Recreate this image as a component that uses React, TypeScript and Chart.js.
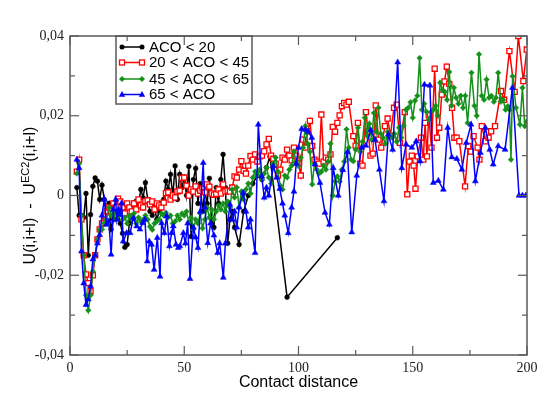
import React, { useEffect, useRef } from 'react';
import { Chart, registerables } from 'chart.js';

Chart.register(...registerables);

const seriesLabels = ['ACO < 20', '20 < ACO < 45', '45 < ACO < 65', '65 < ACO'];
const seriesColors = ['#000000', '#ff0000', '#15901a', '#0000ff'];
const xTicks = [0, 50, 100, 150, 200];
const yTicks = [-0.04, -0.02, 0, 0.02, 0.04];
const xTitle = 'Contact distance';

const blackPts: [number, number][] = [[3,0.002],[4,-0.005],[5,-0.005],[6,-0.0055],[7,0.0005],[8,-0.015],[9,-0.0048],[10,0.0023],[11,0.0044],[12,0.0036],[13,-0.001],[14,0.0026],[15,-0.001],[16,-0.004],[17,-0.002],[18,-0.0085],[19,-0.006],[20,-0.003],[21,-0.0045],[22,-0.007],[23,-0.0095],[24,-0.013],[25,-0.0123],[26,-0.0069],[27,-0.003],[28,-0.0018],[29,-0.0014],[30,-0.002],[31,0.0015],[32,-0.0006],[33,0.0032],[34,-0.001],[35,-0.004],[36,-0.005],[37,-0.003],[38,-0.006],[39,-0.004],[40,-0.002],[41,-0.001],[42,0.0036],[43,0.0015],[44,0.0053],[45,-0.0002],[46,0.0074],[47,-0.001],[48,0.0053],[49,0.002],[50,0.0045],[51,0.0],[52,0.0073],[53,-0.0103],[54,0.004],[55,0.0068],[56,-0.002],[57,0.003],[58,-0.004],[59,0.001],[60,-0.002],[61,0.0043],[62,-0.006],[63,-0.008],[64,0.002],[65,-0.002],[66,0.004],[67,0.0103],[68,0.002],[69,-0.012],[70,-0.006],[71,-0.004],[72,-0.008],[74,-0.0123],[76,-0.004],[78,0.0],[80,0.003],[82,0.005],[84,0.004],[86,0.007],[87.5,0.0098],[95,-0.0255],[117,-0.0106]];

const redPts: [number, number][] = [[3,0.006],[4,0.009],[5,-0.006],[6,-0.015],[7,-0.0198],[8,-0.022],[9,-0.024],[10,-0.02],[11,-0.015],[12,-0.011],[13,-0.0085],[14,-0.007],[15,-0.005],[16,-0.004],[17,-0.003],[18,-0.004],[19,-0.002],[20,-0.003],[21,-0.0008],[22,-0.0015],[23,-0.003],[24,-0.0045],[25,-0.002],[26,-0.003],[27,-0.004],[28,-0.002],[29,-0.0035],[30,-0.001],[31,-0.0025],[32,-0.003],[33,-0.0014],[34,-0.0012],[35,-0.0022],[36,-0.0015],[37,-0.0035],[38,-0.002],[39,-0.0025],[40,-0.003],[41,-0.0018],[42,0.0006],[43,0.0008],[44,-0.001],[45,0],[46,-0.0005],[47,0.001],[48,0.0012],[49,0.0044],[50,0.0045],[51,0.0025],[52,0],[53,0.0015],[54,0.001],[55,0.0023],[56,0.0005],[57,0.0012],[58,0.0018],[59,0.0008],[60,0.0028],[61,0.0022],[62,0.0005],[63,0.0002],[64,0.0004],[65,0.0015],[66,0.0005],[67,0.0028],[68,0.001],[69,0.0012],[70,0.001],[71,0.002],[72,0.0048],[73,0.0045],[74,0.0065],[75,0.0086],[76,0.0062],[77,0.0055],[78,0.0075],[79,0.0099],[80,0.009],[81,0.0103],[82,0.0085],[83,0.0098],[84,0.01],[85,0.0111],[86,0.0128],[87,0.0142],[88,0.01],[89,0.0092],[90,0.008],[91,0.005],[92,0.0065],[93,0.0095],[94,0.009],[95,0.0115],[96,0.01],[97,0.0088],[98,0.012],[99,0.01],[100,0.0082],[101,0.005],[102,0.014],[103,0.012],[104,0.0161],[105,0.0187],[106,0.0124],[107,0.009],[108,0.0085],[109,0.008],[110,0.0203],[111,0.0085],[112,0.0095],[113,0.009],[114,0.0103],[115,0.0172],[116,0.016],[117,0.0182],[118,0.0201],[119,0.0224],[120,0.0232],[121,0.0228],[122,0.0235],[124,0.0149],[125,0.0125],[126,0.0182],[127,0.008],[128,0.0075],[129.5,0.0209],[130.5,0.016],[131.5,0.01],[132.5,0.0105],[133.8,0.0226],[135,0.014],[136.2,0.012],[137.8,0.0174],[139,0.0193],[140.2,0.015],[141.8,0.022],[143,0.0228],[144.4,0.0132],[146.5,0.0209],[147.6,0.0003],[148.6,0.0085],[149.6,0.01],[150.4,0.0075],[151.2,0.0017],[152.2,0.0098],[153.6,0.0145],[154.6,0.009],[155.4,0.0182],[156.2,0.0098],[157,0.0201],[158.2,0.012],[159.6,0.0318],[160.6,0.0145],[161.6,0.017],[162.7,0.0253],[163.9,0.0286],[164.9,0.0323],[166,0.028],[167.2,0.022],[168.2,0.0145],[169.2,0.0145],[170.4,0.0136],[172.9,0.0023],[174.3,0.0124],[175.4,0.011],[176.6,0.0149],[178.4,0.012],[179.2,0.009],[180.2,0.0174],[181.9,0.0136],[183.2,0.0145],[184.3,0.0161],[186,0.0174],[188.6,0.0262],[190,0.024],[192.3,0.0362],[194.6,0.026],[196.2,0.04],[198.4,0.0287],[199.9,0.0366]];

const greenPts: [number, number][] = [[3,0.0055],[4,0.008],[5,-0.005],[6,-0.015],[7,-0.025],[8,-0.0288],[9,-0.025],[10,-0.019],[11,-0.015],[12,-0.011],[13,-0.0085],[14,-0.0085],[15,-0.007],[16,-0.006],[17,-0.003],[18,-0.005],[19,-0.004],[20,-0.006],[21,-0.005],[22,-0.004],[23,-0.006],[24,-0.0055],[25,-0.007],[26,-0.005],[27,-0.006],[28,-0.0045],[29,-0.007],[30,-0.0055],[31,-0.0065],[32,-0.006],[33,-0.005],[34,-0.006],[35,-0.0078],[36,-0.0086],[37,-0.007],[38,-0.0065],[39,-0.006],[40,-0.0045],[41,-0.005],[42,-0.0043],[43,-0.0055],[44,-0.005],[45,-0.007],[46,-0.0065],[47,-0.005],[48,-0.006],[49,-0.0045],[50,-0.005],[51,-0.004],[52,-0.0068],[53,-0.0055],[54,-0.0085],[55,-0.006],[56,-0.007],[57,-0.0045],[58,-0.0082],[59,-0.006],[60,-0.003],[61,-0.0055],[62,-0.0035],[63,-0.006],[64,-0.004],[65,-0.0025],[66,-0.0035],[67,-0.002],[68,-0.004],[69,-0.0015],[70,-0.003],[71,0.0015],[72,-0.0005],[73,0.002],[74,-0.003],[75,0.001],[76,-0.001],[77,0.0015],[78,0.003],[79,0.0005],[80,0.0045],[81,0.006],[82,0.005],[83,0.0065],[84,0.004],[85,0.0055],[86,0.007],[87,0.0045],[88,0.003],[89,0.008],[90,0.0095],[91,0.006],[92,0.0025],[93,0.0015],[94,0.005],[95,0.0045],[96,0.0065],[97,0.0075],[98,0.011],[99,0.0085],[100,0.0074],[101,0.0095],[102,0.012],[103,0.0174],[104,0.013],[105,0.011],[106,0.0028],[107,0.008],[108,0.0065],[109,0.0055],[110,0.006],[111,0.0075],[112,0.0065],[113,0.0085],[114,0.013],[115,0],[116,0.0035],[117,0.0048],[118,0.0035],[119,0.0065],[120,0.0085],[121,0.0166],[122,0.012],[123,0.009],[124,0.0086],[125,0.0115],[126,0.017],[127,0.011],[128,0.0135],[129,0.0195],[130,0.015],[131,0.018],[132,0.014],[133,0.0207],[134,0.016],[135,0.022],[136,0.0155],[137,0.0145],[138,0.013],[139,0.016],[140,0.015],[141,0.0145],[142,0.0155],[143,0.0135],[144,0.017],[145,0.0145],[146,0.0175],[147,0.0215],[148,0.022],[149,0.0234],[150,0.0195],[151,0.0238],[152,0.025],[153,0.0345],[154,0.0215],[155,0.023],[156,0.021],[157,0.019],[158,0.021],[159,0.0215],[160,0.0225],[161,0.02],[162,0.0283],[163,0.0265],[164,0.026],[165,0.024],[166,0.031],[167,0.0225],[168,0.027],[169,0.0245],[170,0.023],[171,0.025],[172,0.022],[173,0.025],[174,0.0182],[175.7,0.0308],[177,0.0225],[178,0.02],[179,0.0354],[180.2,0.025],[181.2,0.024],[182.3,0.0291],[183.4,0.0245],[184.4,0.025],[185.5,0.0235],[186.4,0.0245],[187.4,0.0308],[188.6,0.0235],[189.6,0.024],[190.6,0.0215],[191.6,0.0224],[192.3,0.0215],[193,0.009],[193.7,0.0299],[195.2,0.022],[196.9,0.0178],[198,0.027],[199,0.0174],[199.9,0.0186]];

const bluePts: [number, number][] = [[3,0.009],[4,0.0069],[5,-0.014],[6,-0.022],[7,-0.0274],[8,-0.026],[9,-0.0227],[10,-0.016],[11,-0.015],[12,-0.012],[13,-0.0099],[14,-0.005],[15,-0.001],[16,-0.0073],[17,-0.0065],[18,-0.0148],[19,-0.0035],[20,-0.001],[20.5,-0.006],[21.2,-0.0035],[22,-0.0048],[22.6,-0.0019],[23.3,-0.0115],[24.8,-0.0094],[26.3,-0.0094],[27.7,-0.0056],[29.2,-0.0077],[30.6,-0.0085],[31.8,-0.0069],[32.8,-0.006],[33.8,-0.0165],[34.7,-0.0115],[35.7,-0.0123],[36.8,-0.0186],[38.2,-0.0106],[39.4,-0.0203],[40.1,-0.0069],[41.3,-0.0094],[42.3,-0.0052],[43.5,-0.0127],[44.5,-0.0094],[45.2,-0.0077],[46.4,-0.0123],[47.4,-0.0131],[48.1,-0.0127],[49.6,-0.0094],[50.5,-0.012],[51.5,-0.007],[52.5,-0.0209],[54,-0.008],[55,-0.0105],[56,-0.0131],[57,-0.004],[58.3,0.0082],[59,-0.003],[60.3,-0.0119],[61.5,-0.007],[63,-0.01],[64.6,-0.0144],[65.5,-0.012],[67.1,-0.0206],[68,-0.012],[70,-0.0023],[71,-0.006],[72,-0.004],[73,-0.008],[74,-0.003],[75.8,0.0007],[77,-0.004],[78,-0.008],[79,-0.006],[81,-0.0144],[82.4,0.0178],[83.9,0.0048],[85,-0.0005],[86,0.002],[87,0],[89,0.0074],[90.5,0.0045],[91.8,0.0017],[93,-0.002],[94,-0.005],[95.5,-0.0094],[97,-0.003],[98,0.001],[99,0.008],[100,0.012],[101.4,0.0167],[103,0.0165],[104.3,0.016],[105.8,0.0145],[107.2,0.0078],[109.4,0.0032],[111.6,-0.0043],[113.5,-0.0073],[115.2,0.0069],[117.4,0],[119.4,0.0064],[121.4,0.0109],[123.3,-0.0092],[125.5,0.005],[127.7,0.012],[129.5,0.0125],[131.6,0.0164],[133.5,0.014],[135.4,0.0065],[137.4,-0.0014],[139.3,0.0153],[141.2,0.0115],[143.4,0.0334],[145.2,0.0069],[147.1,0.0128],[149.6,0.012],[151.5,0.0136],[153.2,0.0086],[155.1,0.0278],[157.5,0.0276],[159,0.0032],[161.2,0.0037],[163.4,0.0015],[165.3,0.017],[167.1,0.0096],[169.3,0.0092],[171.5,0.0065],[173.4,0.0132],[175.5,0.0178],[177.4,0.0036],[179.6,0.0107],[181.8,0.017],[183.7,0.0115],[185.2,0.0078],[187.4,0.0124],[190.4,0.0115],[193.6,0.027],[196.5,0],[198,0],[199.5,0]];

const toXY = (pts: [number, number][]) => pts.map(([x, y]) => ({ x, y }));

const fmtY = (v: number) => {
  if (Math.abs(v) < 1e-9) return '0';
  return (v < 0 ? '-' : '') + Math.abs(v).toFixed(2).replace('.', ',');
};

function drawMarker(ctx: CanvasRenderingContext2D, kind: number, x: number, y: number, color: string) {
  ctx.save();
  ctx.lineWidth = 1.3;
  ctx.strokeStyle = color;
  ctx.fillStyle = color;
  if (kind === 0) {
    ctx.beginPath();
    ctx.arc(x, y, 2.5, 0, Math.PI * 2);
    ctx.fill();
  } else if (kind === 1) {
    ctx.fillStyle = '#ffffff';
    ctx.fillRect(x - 2.5, y - 2.5, 5, 5);
    ctx.strokeRect(x - 2.5, y - 2.5, 5, 5);
  } else if (kind === 2) {
    ctx.beginPath();
    ctx.moveTo(x, y - 3);
    ctx.lineTo(x + 3, y);
    ctx.lineTo(x, y + 3);
    ctx.lineTo(x - 3, y);
    ctx.closePath();
    ctx.fill();
  } else {
    ctx.beginPath();
    ctx.moveTo(x, y - 3.5);
    ctx.lineTo(x + 3.2, y + 2.3);
    ctx.lineTo(x - 3.2, y + 2.3);
    ctx.closePath();
    ctx.fill();
  }
  ctx.restore();
}

const decorPlugin = {
  id: 'decor',
  afterDraw(chart: any) {
    const ctx: CanvasRenderingContext2D = chart.ctx;
    const a = chart.chartArea;
    const xs = chart.scales.x;
    const ys = chart.scales.y;
    ctx.save();

    // legend
    const L = a.left + 46, T = a.top, R = a.left + 182, B = a.top + 68;
    ctx.fillStyle = '#ffffff';
    ctx.fillRect(L, T, R - L, B - T);
    ctx.strokeStyle = '#5a5a5a';
    ctx.lineWidth = 1.5;
    ctx.strokeRect(L, T, R - L, B - T);
    const rowY = [T + 11, T + 26.5, T + 43, T + 58.5];
    seriesLabels.forEach((lab, i) => {
      const y = rowY[i];
      ctx.strokeStyle = seriesColors[i];
      ctx.lineWidth = 1.5;
      ctx.beginPath();
      ctx.moveTo(L + 6, y);
      ctx.lineTo(L + 26, y);
      ctx.stroke();
      drawMarker(ctx, i, L + 6, y, seriesColors[i]);
      drawMarker(ctx, i, L + 26, y, seriesColors[i]);
      ctx.fillStyle = '#000000';
      ctx.font = '15px "Liberation Sans", Arial, sans-serif';
      ctx.textBaseline = 'middle';
      ctx.textAlign = 'left';
      ctx.fillText(lab, L + 33, y + 0.5);
    });

    // frame
    ctx.strokeStyle = '#5a5a5a';
    ctx.lineWidth = 1.5;
    ctx.strokeRect(a.left, a.top, a.right - a.left, a.bottom - a.top);

    // ticks (inward, all four sides)
    ctx.lineWidth = 1.2;
    const line = (x1: number, y1: number, x2: number, y2: number) => {
      ctx.beginPath();
      ctx.moveTo(x1, y1);
      ctx.lineTo(x2, y2);
      ctx.stroke();
    };
    for (let k = 0; k <= 8; k++) {
      const v = k * 25;
      const len = k % 2 === 0 ? 9 : 5;
      const px = xs.getPixelForValue(v);
      line(px, a.bottom, px, a.bottom - len);
      line(px, a.top, px, a.top + len);
    }
    for (let k = -4; k <= 4; k++) {
      const v = k / 100;
      const len = k % 2 === 0 ? 9 : 5;
      const py = ys.getPixelForValue(v);
      line(a.left, py, a.left + len, py);
      line(a.right, py, a.right - len, py);
    }

    // x title
    ctx.fillStyle = '#000000';
    ctx.font = '16px "Liberation Sans", Arial, sans-serif';
    ctx.textAlign = 'center';
    ctx.textBaseline = 'alphabetic';
    ctx.fillText(xTitle, (a.left + a.right) / 2, a.bottom + 32);

    // y title with superscript
    const mainF = '16px "Liberation Sans", Arial, sans-serif';
    const supF = '11px "Liberation Sans", Arial, sans-serif';
    const parts: [string, string, number][] = [
      ['U(i,i+l)  -  U', mainF, 0],
      ['EC2', supF, -6.5],
      ['(i,i+l)', mainF, 0],
    ];
    let total = 0;
    parts.forEach(([t, f]) => { ctx.font = f; total += ctx.measureText(t).width; });
    ctx.translate(35, (a.top + a.bottom) / 2);
    ctx.rotate(-Math.PI / 2);
    ctx.textAlign = 'left';
    let cx = -total / 2;
    parts.forEach(([t, f, dy]) => {
      ctx.font = f;
      ctx.fillText(t, cx, dy);
      cx += ctx.measureText(t).width;
    });
    ctx.restore();
  },
};

export default function App() {
  const ref = useRef<HTMLCanvasElement | null>(null);
  useEffect(() => {
    if (!ref.current) return;
    const tickFont = { family: '"Liberation Serif", "Times New Roman", serif', size: 14 };
    const chart = new Chart(ref.current, {
      type: 'line',
      data: {
        datasets: [
          { label: seriesLabels[0], data: toXY(blackPts), borderColor: seriesColors[0], backgroundColor: seriesColors[0], pointBackgroundColor: seriesColors[0], pointBorderColor: seriesColors[0], pointStyle: 'circle', pointRadius: 2.4, pointBorderWidth: 0.5, borderWidth: 1.5, order: 4 },
          { label: seriesLabels[1], data: toXY(redPts), borderColor: seriesColors[1], backgroundColor: '#ffffff', pointBackgroundColor: '#ffffff', pointBorderColor: seriesColors[1], pointStyle: 'rect', pointRadius: 3.6, pointBorderWidth: 1.3, borderWidth: 1.5, order: 3 },
          { label: seriesLabels[2], data: toXY(greenPts), borderColor: seriesColors[2], backgroundColor: seriesColors[2], pointBackgroundColor: seriesColors[2], pointBorderColor: seriesColors[2], pointStyle: 'rectRot', pointRadius: 2.8, pointBorderWidth: 0.5, borderWidth: 1.5, order: 2 },
          { label: seriesLabels[3], data: toXY(bluePts), borderColor: seriesColors[3], backgroundColor: seriesColors[3], pointBackgroundColor: seriesColors[3], pointBorderColor: seriesColors[3], pointStyle: 'triangle', pointRadius: 3.4, pointBorderWidth: 0.5, borderWidth: 1.5, order: 1 },
        ] as any,
      },
      options: {
        responsive: false,
        animation: false,
        events: [],
        layout: { padding: { top: 36, right: 23, left: 0, bottom: 0 } },
        plugins: { legend: { display: false }, tooltip: { enabled: false }, title: { display: false } },
        scales: {
          x: {
            type: 'linear',
            min: 0,
            max: 200,
            grid: { display: false, drawTicks: false },
            border: { display: false },
            afterFit: (s: any) => { s.height = 44; },
            afterBuildTicks: (s: any) => { s.ticks = xTicks.map((v) => ({ value: v })); },
            ticks: { padding: 5, font: tickFont, color: '#222222', maxRotation: 0, autoSkip: false, callback: (v: any) => String(v) },
          },
          y: {
            type: 'linear',
            min: -0.04,
            max: 0.04,
            grid: { display: false, drawTicks: false },
            border: { display: false },
            afterFit: (s: any) => { s.width = 70; },
            afterBuildTicks: (s: any) => { s.ticks = yTicks.map((v) => ({ value: v })); },
            ticks: { padding: 6, font: tickFont, color: '#222222', autoSkip: false, callback: (v: any) => fmtY(Number(v)) },
          },
        },
      } as any,
      plugins: [decorPlugin],
    });
    return () => chart.destroy();
  }, []);
  return (
    <div style={{ position: 'absolute', left: 0, top: 0, width: 550, height: 399, background: '#ffffff' }}>
      <canvas ref={ref} width={550} height={399} style={{ display: 'block', width: 550, height: 399 }} />
    </div>
  );
}
